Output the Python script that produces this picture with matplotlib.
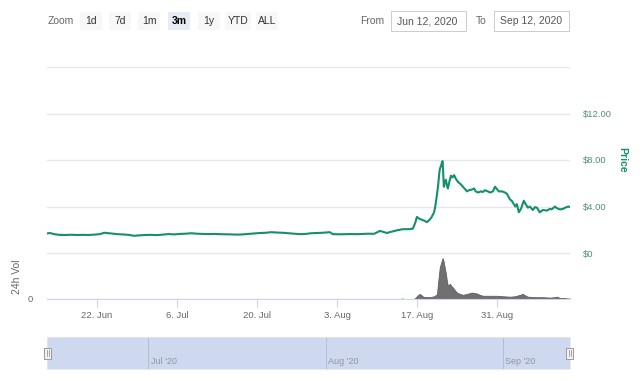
import matplotlib
matplotlib.use("Agg")
import matplotlib.pyplot as plt
import matplotlib.dates as mdates
from matplotlib.patches import Rectangle
import pandas as pd

plt.rcParams['font.family'] = ['Liberation Sans', 'DejaVu Sans']

# ---------------- data ----------------
price_dates = [
    "2020-06-13 06:00", "2020-06-13 18:00", "2020-06-14 12:00", "2020-06-15 12:00", "2020-06-16 12:00",
    "2020-06-17 12:00", "2020-06-18 12:00", "2020-06-19 12:00", "2020-06-20 12:00", "2020-06-21 12:00",
    "2020-06-22 12:00", "2020-06-23 06:00", "2020-06-24 12:00", "2020-06-25 12:00", "2020-06-26 12:00",
    "2020-06-27 12:00", "2020-06-28 12:00", "2020-06-29 12:00", "2020-06-30 12:00", "2020-07-01 12:00",
    "2020-07-02 12:00", "2020-07-03 12:00", "2020-07-04 12:00", "2020-07-05 12:00", "2020-07-06 12:00",
    "2020-07-07 12:00", "2020-07-08 12:00", "2020-07-09 12:00", "2020-07-10 12:00", "2020-07-11 12:00",
    "2020-07-12 12:00", "2020-07-13 12:00", "2020-07-14 12:00", "2020-07-15 12:00", "2020-07-16 12:00",
    "2020-07-17 12:00", "2020-07-18 12:00", "2020-07-19 12:00", "2020-07-20 12:00", "2020-07-21 12:00",
    "2020-07-22 12:00", "2020-07-23 12:00", "2020-07-24 12:00", "2020-07-25 12:00", "2020-07-26 12:00",
    "2020-07-27 12:00", "2020-07-28 12:00", "2020-07-29 12:00", "2020-07-30 12:00", "2020-07-31 12:00",
    "2020-08-01 18:00", "2020-08-02 06:00", "2020-08-03 12:00", "2020-08-04 12:00", "2020-08-05 12:00",
    "2020-08-06 12:00", "2020-08-07 12:00", "2020-08-08 12:00", "2020-08-09 12:00", "2020-08-10 13:00",
    "2020-08-11 18:00", "2020-08-12 07:00", "2020-08-13 12:00", "2020-08-14 13:00", "2020-08-15 19:00",
    "2020-08-16 07:00", "2020-08-16 17:00", "2020-08-17 00:00", "2020-08-17 10:00", "2020-08-17 22:00",
    "2020-08-18 10:00", "2020-08-18 18:00", "2020-08-19 07:00", "2020-08-19 14:00", "2020-08-20 00:00",
    "2020-08-20 05:00", "2020-08-20 12:00", "2020-08-20 17:00", "2020-08-20 22:00", "2020-08-21 00:00",
    "2020-08-21 05:00", "2020-08-21 10:00", "2020-08-21 12:00", "2020-08-21 14:00", "2020-08-21 17:00",
    "2020-08-21 22:00", "2020-08-22 02:00", "2020-08-22 06:00", "2020-08-22 10:00", "2020-08-22 17:00",
    "2020-08-22 23:00", "2020-08-23 05:00", "2020-08-23 12:00", "2020-08-23 19:00", "2020-08-24 05:00",
    "2020-08-24 17:00", "2020-08-25 01:00", "2020-08-25 10:00", "2020-08-25 18:00", "2020-08-26 02:00",
    "2020-08-26 14:00", "2020-08-27 00:00", "2020-08-27 07:00", "2020-08-27 17:00", "2020-08-28 05:00",
    "2020-08-28 13:00", "2020-08-28 22:00", "2020-08-29 10:00", "2020-08-29 19:00", "2020-08-30 07:00",
    "2020-08-30 16:00", "2020-08-31 00:00", "2020-08-31 08:00", "2020-08-31 22:00", "2020-09-01 10:00",
    "2020-09-01 18:00", "2020-09-02 07:00", "2020-09-02 14:00", "2020-09-03 05:00", "2020-09-03 12:00",
    "2020-09-03 20:00", "2020-09-04 05:00", "2020-09-04 17:00", "2020-09-05 01:00", "2020-09-05 10:00",
    "2020-09-05 18:00", "2020-09-06 07:00", "2020-09-06 16:00", "2020-09-07 00:00", "2020-09-07 12:00",
    "2020-09-08 01:00", "2020-09-08 18:00", "2020-09-09 07:00", "2020-09-09 14:00", "2020-09-10 04:00",
    "2020-09-10 12:00", "2020-09-11 01:00", "2020-09-11 14:00", "2020-09-11 23:00", "2020-09-12 12:00",
    "2020-09-12 19:00",
]
price_values = [
    1.68, 1.72, 1.62, 1.56, 1.55,
    1.57, 1.55, 1.56, 1.55, 1.58,
    1.62, 1.74, 1.68, 1.62, 1.60,
    1.56, 1.48, 1.52, 1.55, 1.56,
    1.54, 1.58, 1.63, 1.60, 1.64,
    1.66, 1.70, 1.66, 1.64, 1.63,
    1.64, 1.62, 1.61, 1.60, 1.58,
    1.60, 1.64, 1.68, 1.72, 1.74,
    1.79, 1.76, 1.74, 1.70, 1.66,
    1.62, 1.64, 1.70, 1.72, 1.74,
    1.79, 1.62, 1.61, 1.62, 1.63,
    1.62, 1.64, 1.66, 1.65, 1.90,
    1.72, 1.80, 1.95, 2.05, 2.05,
    2.10, 2.60, 3.10, 2.95, 2.85,
    2.75, 2.65, 2.90, 3.10, 3.50,
    4.00, 5.00, 5.80, 6.90, 7.20,
    7.50, 7.85, 7.90, 7.00, 5.70,
    6.20, 6.30, 5.80, 5.55, 6.20,
    6.65, 6.50, 6.70, 6.40, 6.10,
    5.90, 5.70, 5.50, 5.30, 5.40,
    5.45, 5.55, 5.30, 5.20, 5.30,
    5.25, 5.40, 5.30, 5.20, 5.30,
    5.70, 5.50, 5.30, 5.30, 5.20,
    5.10, 4.60, 4.50, 4.00, 4.20,
    3.50, 3.80, 4.50, 4.20, 3.90,
    4.00, 3.70, 3.95, 3.90, 3.50,
    3.70, 3.65, 3.80, 3.75, 4.00,
    3.85, 3.75, 3.80, 3.90, 4.00,
    3.95,
]

vol_dates = [
    "2020-06-13 06:00", "2020-08-14 06:00", "2020-08-14 10:00", "2020-08-14 14:00", "2020-08-16 12:00",
    "2020-08-16 20:00", "2020-08-17 10:00", "2020-08-17 18:00", "2020-08-18 02:00", "2020-08-18 14:00",
    "2020-08-19 07:00", "2020-08-20 00:00", "2020-08-20 12:00", "2020-08-20 17:00", "2020-08-21 00:00",
    "2020-08-21 05:00", "2020-08-21 12:00", "2020-08-21 16:00", "2020-08-21 18:00", "2020-08-22 02:00",
    "2020-08-22 06:00", "2020-08-22 10:00", "2020-08-22 19:00", "2020-08-23 01:00", "2020-08-23 07:00",
    "2020-08-23 17:00", "2020-08-24 00:00", "2020-08-24 13:00", "2020-08-25 01:00", "2020-08-25 18:00",
    "2020-08-26 14:00", "2020-08-27 12:00", "2020-08-28 00:00", "2020-08-28 13:00", "2020-08-29 19:00",
    "2020-08-31 00:00", "2020-09-01 01:00", "2020-09-02 07:00", "2020-09-03 05:00", "2020-09-04 00:00",
    "2020-09-04 13:00", "2020-09-05 01:00", "2020-09-05 10:00", "2020-09-06 16:00", "2020-09-08 01:00",
    "2020-09-09 07:00", "2020-09-10 04:00", "2020-09-10 12:00", "2020-09-11 01:00", "2020-09-11 23:00",
    "2020-09-12 07:00", "2020-09-12 19:00",
]
vol_values = [
    0, 0, 1.5, 0, 0,
    4, 11, 9, 5, 4,
    4, 6, 10, 36, 69,
    78, 89, 82, 76, 54,
    38, 29, 33, 28, 25,
    18, 14, 11, 9, 11,
    14, 12, 9, 7, 7,
    7, 6, 5, 6, 9,
    11, 7, 5, 4, 4,
    3, 4, 5, 2, 2,
    1, 1,
]

price_ticks = [0, 4, 8, 12, 16]
price_tick_labels = ["$0", "$4.00", "$8.00", "$12.00", ""]
x_tick_dates = ["2020-06-22", "2020-07-06", "2020-07-20", "2020-08-03", "2020-08-17", "2020-08-31"]
x_tick_labels = ["22. Jun", "6. Jul", "20. Jul", "3. Aug", "17. Aug", "31. Aug"]
nav_month_dates = ["2020-07-01", "2020-08-01", "2020-09-01"]
nav_month_labels = ["Jul '20", "Aug '20", "Sep '20"]
zoom_buttons = ["1d", "7d", "1m", "3m", "1y", "YTD", "ALL"]
selected_button = "3m"
from_text = "Jun 12, 2020"
to_text = "Sep 12, 2020"

# ---------------- figure ----------------
W, H = 640, 380
fig = plt.figure(figsize=(W / 100, H / 100), dpi=100)
fig.patch.set_facecolor("white")

def fx(px):
    return px / W

def fy(py):
    return 1 - py / H

green = "#14906a"
tick_green = "#4f8f7d"
grid_c = "#e6e6e6"
label_c = "#666666"

pd_dates = pd.to_datetime(price_dates)
vd_dates = pd.to_datetime(vol_dates)
x0, x1 = pd_dates[0], pd_dates[-1]

L, R = 47, 570
# price axes
axp = fig.add_axes([fx(L), fy(253), fx(R - L), (253 - 67) / H])
axp.plot(pd_dates, price_values, color=green, lw=1.5, solid_joinstyle="round")
axp.set_xlim(x0, x1)
axp.set_ylim(0, 16)
axp.set_yticks(price_ticks)
axp.grid(axis="y", color=grid_c, lw=0.9)
axp.set_axisbelow(True)
axp.yaxis.tick_right()
axp.tick_params(axis="y", length=0, pad=9.5, labelsize=6.8, labelcolor=tick_green)
axp.set_yticklabels(price_tick_labels)
axp.set_xticks([])
for s in axp.spines.values():
    s.set_visible(False)
axp.set_facecolor("none")
fig.text(fx(622), fy(160), "Price", rotation=270, color=green, fontsize=7.5,
         ha="center", va="center", fontweight="bold")

# volume axes
axv = fig.add_axes([fx(L), fy(299), fx(R - L), 46 / H])
axv.fill_between(vd_dates, vol_values, 0, color="#707070", lw=0.6, edgecolor="#606060")
axv.set_xlim(x0, x1)
axv.set_ylim(0, 100)
axv.set_yticks([0, 100])
axv.set_yticklabels(["0", ""])
axv.tick_params(axis="y", length=0, pad=10, labelsize=6.8, labelcolor=label_c)
axv.grid(axis="y", color=grid_c, lw=0.9)
axv.set_axisbelow(True)
for s in axv.spines.values():
    s.set_visible(False)
axv.spines["bottom"].set_visible(True)
axv.spines["bottom"].set_color("#ccd6eb")
axv.set_xticks(pd.to_datetime(x_tick_dates))
axv.set_xticklabels(x_tick_labels)
axv.tick_params(axis="x", length=6, color="#ccd6eb", pad=3, labelsize=6.8, labelcolor=label_c)
axv.set_facecolor("none")
fig.text(fx(17), fy(277), "24h Vol", rotation=90, color=label_c, fontsize=7.5,
         ha="center", va="center")

# navigator
axn = fig.add_axes([fx(L), fy(369), fx(R - L), 32 / H])
axn.set_xlim(x0, x1)
axn.set_ylim(0, 1)
axn.axvspan(x0, x1, color="#ced8ee", lw=0)
for d, lab in zip(pd.to_datetime(nav_month_dates), nav_month_labels):
    axn.axvline(d, color="#b4bdd6", lw=0.7)
    axn.text(d + pd.Timedelta(hours=10), 0.1, lab, fontsize=6.5, color="#8f95a3",
             ha="left", va="bottom")
axn.set_xticks([])
axn.set_yticks([])
for s in axn.spines.values():
    s.set_color("#e3e7ef")
    s.set_linewidth(0.6)

# handles
for hx in (L, R - 1):
    fig.patches.append(Rectangle((fx(hx - 3), fy(359)), fx(7), 11 / H, facecolor="#f2f2f2",
                                 edgecolor="#999999", lw=0.7, transform=fig.transFigure))
    for off in (-1, 1):
        fig.lines.append(plt.Line2D([fx(hx + 0.5 + off), fx(hx + 0.5 + off)], [fy(356), fy(350)],
                                    color="#999999", lw=0.6, transform=fig.transFigure))

# range selector
fig.text(fx(48), fy(21), "Zoom", fontsize=7.5, color=label_c, ha="left", va="center")
btn_centers = [91, 120, 149, 179, 209, 238, 267]
btn_widths = [22, 22, 22, 22, 22, 26, 22]
for lab, cx, bw in zip(zoom_buttons, btn_centers, btn_widths):
    sel = lab == selected_button
    fig.patches.append(Rectangle((fx(cx - bw / 2), fy(30)), fx(bw), 18 / H,
                                 facecolor="#e6ebf5" if sel else "#f7f7f7", lw=0,
                                 transform=fig.transFigure))
    fig.text(fx(cx), fy(21), lab, fontsize=7.5, color="#000000" if sel else "#333333",
             fontweight="bold" if sel else "normal", ha="center", va="center")

fig.text(fx(384), fy(21), "From", fontsize=7.5, color=label_c, ha="right", va="center")
fig.patches.append(Rectangle((fx(391), fy(31)), fx(75), 20 / H, facecolor="white",
                             edgecolor="#cccccc", lw=0.7, transform=fig.transFigure))
fig.text(fx(397), fy(21), from_text, fontsize=7.5, color="#555555", ha="left", va="center")
fig.text(fx(487), fy(21), "To", fontsize=7.5, color=label_c, ha="right", va="center")
fig.patches.append(Rectangle((fx(494), fy(31)), fx(75), 20 / H, facecolor="white",
                             edgecolor="#cccccc", lw=0.7, transform=fig.transFigure))
fig.text(fx(500), fy(21), to_text, fontsize=7.5, color="#555555", ha="left", va="center")

fig.savefig("out.png", dpi=100, facecolor="white")
